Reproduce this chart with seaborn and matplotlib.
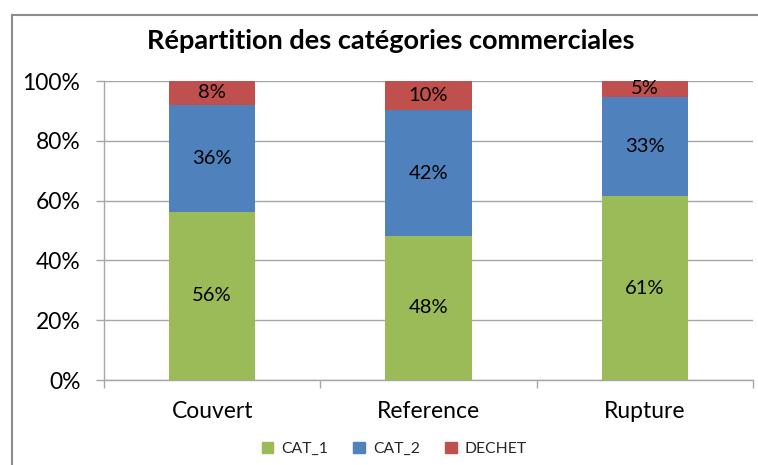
import matplotlib
matplotlib.use("Agg")
import matplotlib.pyplot as plt
import matplotlib.patches as mpatches
from matplotlib.ticker import FixedLocator, PercentFormatter
import seaborn as sns
import pandas as pd
import numpy as np

categories = ["Couvert", "Reference", "Rupture"]
cat_1 = [56.2, 48.2, 61.4]
cat_2 = [35.9, 42.0, 33.4]
dechet = [7.9, 9.8, 5.2]
series_names = ["CAT_1", "CAT_2", "DECHET"]
colors = ["#9BBB59", "#4F81BD", "#C0504D"]
y_ticks = [0, 20, 40, 60, 80, 100]

sns.set_theme(style="white")
plt.rcParams["font.family"] = ["Lato", "DejaVu Sans"]

fig = plt.figure(figsize=(7.58, 4.65), dpi=100)
ax = fig.add_axes([104/758, 1-380/465, (753-104)/758, (380-81)/465])

c1 = np.array(cat_1); c2 = np.array(cat_2); d = np.array(dechet)
tops = [c1 + c2 + d, c1 + c2, c1]
df = pd.DataFrame({"cat": categories})
for i, (name, col) in enumerate(zip(series_names[::-1], colors[::-1])):
    df["v"] = tops[i]
    sns.barplot(data=df, x="cat", y="v", color=col, width=0.4, ax=ax,
                saturation=1, edgecolor="none", linewidth=0, zorder=3)

bottoms = [np.zeros(3), c1, c1 + c2]
for vals, bot in zip([c1, c2, d], bottoms):
    for j in range(3):
        ax.text(j, bot[j] + vals[j] / 2, f"{round(vals[j]):d}%", ha="center",
                va="center", fontsize=14.5, color="#000000", zorder=5)

ax.set_ylim(0, 100)
ax.set_xlim(-0.5, 2.5)
ax.set_yticks(y_ticks)
ax.yaxis.set_major_formatter(PercentFormatter(decimals=0))
ax.set_xlabel(""); ax.set_ylabel("")
ax.grid(axis="y", color="#A6A6A6", linewidth=1, zorder=0)
ax.set_axisbelow(True)
for s in ["top", "right"]:
    ax.spines[s].set_visible(False)
for s in ["left", "bottom"]:
    ax.spines[s].set_color("#A6A6A6")
    ax.spines[s].set_linewidth(1)
ax.tick_params(axis="y", length=6, width=1, color="#A6A6A6", pad=11,
               labelsize=16.5, labelcolor="#000000", left=True)
ax.tick_params(axis="x", which="major", length=0, pad=15, labelsize=16.5,
               labelcolor="#000000")
ax.xaxis.set_minor_locator(FixedLocator([-0.5, 0.5, 1.5, 2.5]))
ax.tick_params(axis="x", which="minor", length=6, width=1, color="#A6A6A6",
               bottom=True)

fig.text(0.515, 0.912, "Répartition des catégories commerciales", ha="center",
         va="center", fontsize=19.5, fontweight="bold", color="#000000")

handles = [mpatches.Patch(color=c, label=n) for c, n in zip(colors, series_names)]
fig.legend(handles=handles, loc="center", bbox_to_anchor=(0.52, 1-449/465),
           ncol=3, frameon=False, fontsize=11.3, handlelength=0.75,
           handleheight=0.75, handletextpad=0.5, columnspacing=1.6)

fig.patches.append(mpatches.Rectangle((12/758, -0.1), 2, 1 - 15/465 + 0.1,
                   transform=fig.transFigure, fill=False, edgecolor="#8C8C8C",
                   linewidth=1.5))

fig.savefig("out.png", dpi=100)
